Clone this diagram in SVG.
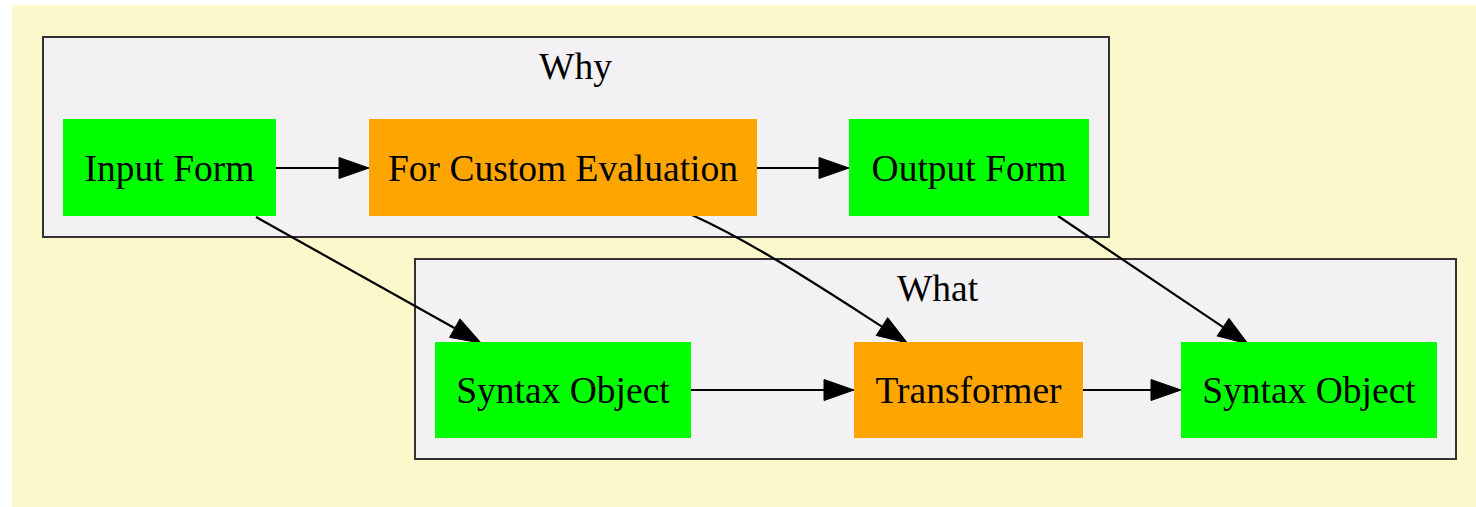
<svg xmlns="http://www.w3.org/2000/svg" width="1476" height="507" viewBox="0 0 1476 507">
<style>
.bg{fill:#fbf8cc}
.cluster{fill:#f3f1f3;stroke:#333333;stroke-width:2}
.green{fill:#00ff00}
.orange{fill:#ffa500}
text{font-family:"Liberation Serif","Times New Roman",serif;font-size:37.5px;fill:#000;text-anchor:middle}
.edge{fill:none;stroke:#000;stroke-width:2.2}
</style>
<defs>
<marker id="arr" markerUnits="userSpaceOnUse" markerWidth="32" markerHeight="24" refX="0" refY="10.5" orient="auto" overflow="visible">
<path d="M0,0 L30,10.5 L0,21 z" fill="#000" stroke="#000" stroke-width="1"/>
</marker>
</defs>
<rect class="bg" x="12" y="5" width="1464" height="502"/>
<g id="cluster_why">
<rect class="cluster" x="43" y="37" width="1066" height="200"/>
<text x="575.5" y="79">Why</text>
</g>
<g id="cluster_what">
<rect class="cluster" x="415" y="259" width="1041" height="200"/>
<text x="937.5" y="301">What</text>
</g>
<g id="connectors">
<path class="edge" d="M276,168 L339,168" marker-end="url(#arr)"/>
<path class="edge" d="M757,168 L819,168" marker-end="url(#arr)"/>
<path class="edge" d="M691,390 L824,390" marker-end="url(#arr)"/>
<path class="edge" d="M1083,390 L1151,390" marker-end="url(#arr)"/>
<path class="edge" d="M256,217 L454.8,328.3" marker-end="url(#arr)"/>
<path class="edge" d="M692,215 C752,242 822,288 882,326.6" marker-end="url(#arr)"/>
<path class="edge" d="M1058,216 L1223.1,327.2" marker-end="url(#arr)"/>
</g>
<g id="node_input_form">
<rect class="green" x="63" y="119" width="213" height="97"/>
<text x="169.5" y="181">Input Form</text>
</g>
<g id="node_custom_eval">
<rect class="orange" x="369" y="119" width="388" height="97"/>
<text x="563" y="181">For Custom Evaluation</text>
</g>
<g id="node_output_form">
<rect class="green" x="849" y="119" width="240" height="97"/>
<text x="969" y="181">Output Form</text>
</g>
<g id="node_syntax_object_1">
<rect class="green" x="435" y="342" width="256" height="96"/>
<text x="563" y="403">Syntax Object</text>
</g>
<g id="node_transformer">
<rect class="orange" x="854" y="342" width="229" height="96"/>
<text x="968.5" y="403">Transformer</text>
</g>
<g id="node_syntax_object_2">
<rect class="green" x="1181" y="342" width="256" height="96"/>
<text x="1309" y="403">Syntax Object</text>
</g>
</svg>
